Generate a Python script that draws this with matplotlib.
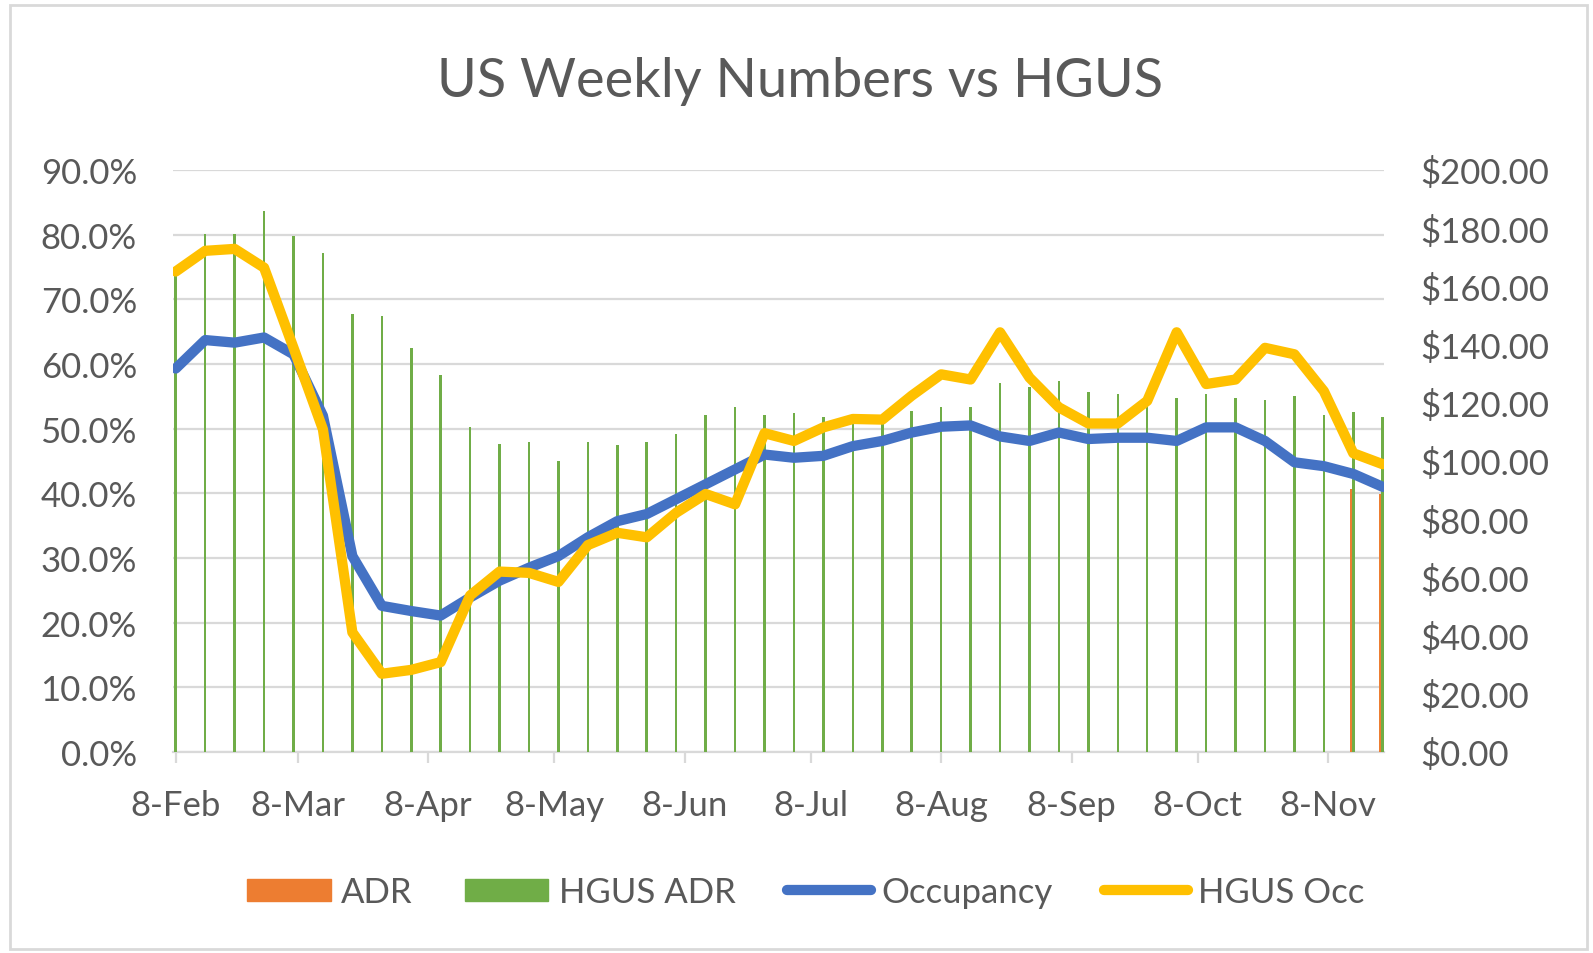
import numpy as np
import pandas as pd
import matplotlib
matplotlib.use('Agg')
import matplotlib.pyplot as plt
import matplotlib.dates as mdates
from matplotlib.patches import Rectangle, Patch
from matplotlib.lines import Line2D
from matplotlib.ticker import FuncFormatter, MultipleLocator

# weekly data, 8-Feb to 21-Nov 2020
weeks = pd.date_range('2020-02-08', periods=42, freq='7D')

# US occupancy (%)
occupancy = [59.3, 63.7, 63.3, 64.1, 61.5, 52.0, 30.3, 22.6, 21.8, 21.1,
             23.9, 26.5, 28.5, 30.3, 33.2, 35.7, 36.8, 39.1, 41.4, 43.7,
             46.0, 45.5, 45.8, 47.3, 48.1, 49.4, 50.3, 50.5, 48.8, 48.1,
             49.4, 48.4, 48.6, 48.6, 48.1, 50.2, 50.2, 48.1, 44.8, 44.2,
             43.0, 41.0]

# HGUS occupancy (%)
hgus_occ = [74.3, 77.5, 77.8, 74.9, 62.5, 49.9, 18.5, 12.1, 12.7, 13.9,
            24.2, 27.9, 27.7, 26.3, 32.0, 33.9, 33.2, 37.0, 39.9, 38.3,
            49.3, 48.1, 50.2, 51.5, 51.4, 55.1, 58.4, 57.6, 64.9, 57.9,
            53.3, 50.8, 50.8, 54.3, 64.9, 56.9, 57.6, 62.5, 61.5, 55.8,
            46.2, 44.5]

# HGUS ADR ($)
hgus_adr = [166, 178, 178, 186, 177.4, 171.5, 150.5, 150, 138.8, 129.5,
            111.6, 105.8, 106.4, 99.9, 106.4, 105.6, 106.4, 109.3, 115.8, 118.7,
            115.8, 116.5, 115.2, 116, 116, 117.3, 118.7, 118.7, 126.7, 125.3,
            127.4, 123.8, 123.0, 121, 121.6, 123.0, 121.6, 121.0, 122.4, 115.8,
            116.7, 115.0]

# US ADR ($) - only the last two weeks are shown
adr_weeks = weeks[-2:]
adr = [90.4, 88.7]

text_col = '#595959'
grid_col = '#D9D9D9'
plt.rcParams['font.family'] = ['Lato', 'DejaVu Sans']
fs = 25

W, H = 1593, 954
fig = plt.figure(figsize=(W / 100, H / 100), dpi=100)
fig.patch.set_facecolor('white')

left, right, top, bottom = 173, 1384, 171, 753
rect = [left / W, 1 - bottom / H, (right - left) / W, (bottom - top) / H]

ax = fig.add_axes(rect)      # grid + left axis
ax2 = ax.twinx()             # bars + right axis
ax3 = ax.twinx()             # lines

# left axis
ax.set_ylim(0, 90)
ax.yaxis.set_major_locator(MultipleLocator(10))
ax.yaxis.set_major_formatter(FuncFormatter(lambda v, p: f'{v:.1f}%'))
ax.grid(axis='y', color=grid_col, lw=1.6)
ax.set_axisbelow(True)
ax.tick_params(axis='y', length=0, pad=26, labelsize=fs, labelcolor=text_col)
for s in ['top', 'left', 'right']:
    ax.spines[s].set_visible(False)
ax.spines['bottom'].set_color(grid_col)
ax.spines['bottom'].set_linewidth(1.6)

# x axis
ax.set_xlim(weeks[0] - pd.Timedelta(days=0.65), weeks[-1] + pd.Timedelta(days=0.3))
ax.xaxis.set_major_locator(mdates.MonthLocator(bymonthday=8))
ax.xaxis.set_major_formatter(FuncFormatter(
    lambda v, p: f"{mdates.num2date(v).day}-{mdates.num2date(v).strftime('%b')}"))
ax.tick_params(axis='x', length=8, width=1.6, color=grid_col, pad=19,
               labelsize=fs, labelcolor=text_col)

# bars on right axis
ax2.set_ylim(0, 200)
ax2.yaxis.set_major_locator(MultipleLocator(20))
ax2.yaxis.set_major_formatter(FuncFormatter(lambda v, p: f'${v:.2f}'))
ax2.tick_params(axis='y', length=0, pad=26, labelsize=fs, labelcolor=text_col)
for s in ax2.spines.values():
    s.set_visible(False)
ax2.bar(weeks, hgus_adr, width=0.6, color='#70AD47')
ax2.bar(adr_weeks - pd.Timedelta(days=0.6), adr, width=0.6, color='#ED7D31')

# lines
ax3.set_ylim(0, 90)
ax3.set_yticks([])
for s in ax3.spines.values():
    s.set_visible(False)
ax3.plot(weeks, occupancy, color='#4472C4', lw=7.4, solid_joinstyle='round', solid_capstyle='round')
ax3.plot(weeks, hgus_occ, color='#FFC000', lw=7.4, solid_joinstyle='round', solid_capstyle='round')

# title
fig.text(800 / W, 1 - 82 / H, 'US Weekly Numbers vs HGUS', ha='center', va='center',
         fontsize=39, color=text_col)

# legend
handles = [Patch(color='#ED7D31'), Patch(color='#70AD47'),
           Line2D([], [], color='#4472C4', lw=7.4, solid_capstyle='round'),
           Line2D([], [], color='#FFC000', lw=7.4, solid_capstyle='round')]
labels = ['ADR', 'HGUS ADR', 'Occupancy', 'HGUS Occ']
fig.legend(handles, labels, loc='center', bbox_to_anchor=(806 / W, 1 - 893 / H), ncol=4,
           frameon=False, fontsize=fs, labelcolor=text_col, handlelength=2.4,
           handleheight=0.6, handletextpad=0.3, columnspacing=1.5)

# chart frame
fig.patches.append(Rectangle((10 / W, 1 - 950 / H), (1587 - 10) / W, (950 - 6) / H,
                             transform=fig.transFigure, fill=False, ec=grid_col, lw=2))

fig.savefig('out.png', dpi=100)
